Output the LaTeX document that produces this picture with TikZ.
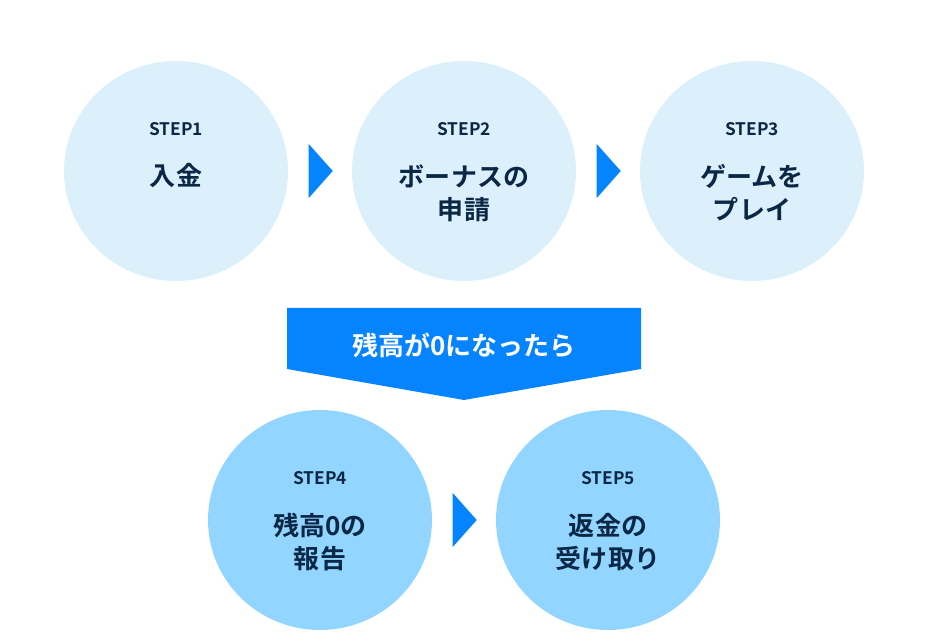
\documentclass[tikz,border=0pt]{standalone}
\usepackage{fontspec}
\setmainfont{Noto Sans CJK JP Bold}
\usetikzlibrary{shapes, positioning}
\definecolor{paleblue}{HTML}{DCF0FC}
\definecolor{midblue}{HTML}{92D5FF}
\definecolor{mainblue}{HTML}{0684FF}
\definecolor{inkblue}{HTML}{0A2745}
\tikzstyle{stepdisc} = [ellipse, minimum width=4.48cm, minimum height=4.4cm, inner sep=0]
\tikzstyle{steplabel} = [text=inkblue, inner sep=0, font=\fontsize{9.85}{12}\selectfont]
\tikzstyle{steptitle} = [text=inkblue, inner sep=0, anchor=center, align=center, font=\fontsize{14.8}{18.9}\selectfont]
\tikzstyle{nextmark} = [isosceles triangle, isosceles triangle stretches, fill=mainblue, inner sep=0,
                        minimum width=1.08cm, minimum height=0.48cm]

\begin{document}
\begin{tikzpicture}
				\useasboundingbox (0, 0) rectangle (18.62, 12.84);

				% upper row
				\node (Disc1) [stepdisc, fill=paleblue] at (3.52, 9.42) {};
				\node (Step1) [steplabel] at (3.52, 10.26) {STEP1};
				\node (Title1) [steptitle] at (3.52, 9.32) {入金};

				\node (Next1) [nextmark] at (6.38, 9.42) {};

				\node (Disc2) [stepdisc, fill=paleblue] at (9.28, 9.42) {};
				\node (Step2) [steplabel] at (9.28, 10.26) {STEP2};
				\node (Title2) [steptitle] at (9.28, 8.98) {ボーナスの\\申請};

				\node (Next2) [nextmark] at (12.14, 9.42) {};

				\node (Disc3) [stepdisc, fill=paleblue] at (15.04, 9.42) {};
				\node (Step3) [steplabel] at (15.04, 10.26) {STEP3};
				\node (Title3) [steptitle] at (15.04, 8.98) {ゲームを\\プレイ};

				% banner
				\coordinate (BannerA) at (5.74, 6.68);
				\coordinate (BannerB) at (12.82, 6.68);
				\coordinate (BannerC) at (12.82, 5.46);
				\coordinate (BannerD) at (9.28, 4.84);
				\coordinate (BannerE) at (5.74, 5.46);
				\fill [mainblue] (BannerA) -- (BannerB) -- (BannerC) -- (BannerD) -- (BannerE) -- cycle;
				\node (Banner) [steptitle, text=white] at (9.28, 5.94) {残高が0になったら};

				% lower row
				\node (Disc4) [stepdisc, fill=midblue] at (6.4, 2.44) {};
				\node (Step4) [steplabel] at (6.4, 3.28) {STEP4};
				\node (Title4) [steptitle] at (6.4, 2.0) {残高0の\\報告};

				\node (Next3) [nextmark] at (9.26, 2.44) {};

				\node (Disc5) [stepdisc, fill=midblue] at (12.16, 2.44) {};
				\node (Step5) [steplabel] at (12.16, 3.28) {STEP5};
				\node (Title5) [steptitle] at (12.16, 2.0) {返金の\\受け取り};
			\end{tikzpicture}
\end{document}
